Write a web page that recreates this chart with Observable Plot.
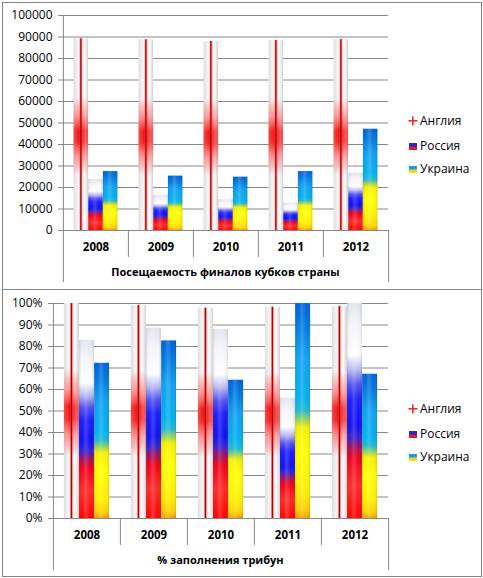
<!DOCTYPE html>
<html>
<head>
<meta charset="utf-8">
<script src="https://cdn.jsdelivr.net/npm/d3@7"></script>
<script src="https://cdn.jsdelivr.net/npm/@observablehq/plot@0.6"></script>
<style>
  html, body { margin: 0; padding: 0; background: #fff; }
  body { width: 483px; height: 578px; position: relative; overflow: hidden; font-family: "Open Sans", sans-serif; }
  .panel { position: absolute; left: 2px; width: 480px; box-sizing: border-box; border: 1px solid #858585; }
  .chart { position: absolute; left: 0; width: 483px; height: 290px; }
  .legend { position: absolute; left: 408px; font-size: 12px; color: #000; }
  .legend .item { position: absolute; left: 0; white-space: nowrap; height: 16px; line-height: 16px; }
  .legend svg { vertical-align: middle; margin-right: 2px; position: relative; top: -1px; }
</style>
</head>
<body>
<svg width="0" height="0" style="position:absolute">
  <defs>
    <linearGradient id="gEngBase" x1="0" y1="0" x2="1" y2="0">
      <stop offset="0" stop-color="#d2d2d2"/>
      <stop offset="0.18" stop-color="#eaeaea"/>
      <stop offset="0.4" stop-color="#f8f8f8"/>
      <stop offset="0.6" stop-color="#ffffff"/>
      <stop offset="0.82" stop-color="#f0f0f0"/>
      <stop offset="1" stop-color="#cccccc"/>
    </linearGradient>
    <linearGradient id="gEngRed" x1="0" y1="1" x2="0" y2="0">
      <stop offset="0.29" stop-color="#ff0000" stop-opacity="0"/>
      <stop offset="0.38" stop-color="#ff3030" stop-opacity="0.5"/>
      <stop offset="0.46" stop-color="#f00000" stop-opacity="0.92"/>
      <stop offset="0.52" stop-color="#f00000" stop-opacity="0.95"/>
      <stop offset="0.6" stop-color="#ff3030" stop-opacity="0.5"/>
      <stop offset="0.69" stop-color="#ff0000" stop-opacity="0"/>
    </linearGradient>
    <linearGradient id="gEngGloss" x1="0" y1="0" x2="1" y2="0">
      <stop offset="0" stop-color="#ffffff" stop-opacity="0.25"/>
      <stop offset="0.45" stop-color="#ffffff" stop-opacity="0"/>
      <stop offset="0.8" stop-color="#ffffff" stop-opacity="0.3"/>
      <stop offset="1" stop-color="#d8d8d8" stop-opacity="0.35"/>
    </linearGradient>
    <linearGradient id="gRus" x1="0" y1="1" x2="0" y2="0">
      <stop offset="0" stop-color="#ff0000"/>
      <stop offset="0.15" stop-color="#ff2a2a"/>
      <stop offset="0.28" stop-color="#f00018"/>
      <stop offset="0.33" stop-color="#a01060"/>
      <stop offset="0.38" stop-color="#3020d8"/>
      <stop offset="0.43" stop-color="#1010f0"/>
      <stop offset="0.55" stop-color="#1c1cff"/>
      <stop offset="0.62" stop-color="#5050f0"/>
      <stop offset="0.69" stop-color="#b8b8f4"/>
      <stop offset="0.76" stop-color="#ffffff"/>
      <stop offset="0.9" stop-color="#f4f4fa"/>
      <stop offset="1" stop-color="#e2e2f0"/>
    </linearGradient>
    <linearGradient id="gUkr" x1="0" y1="1" x2="0" y2="0">
      <stop offset="0" stop-color="#f0a000"/>
      <stop offset="0.04" stop-color="#ffd000"/>
      <stop offset="0.12" stop-color="#ffee00"/>
      <stop offset="0.3" stop-color="#ffff00"/>
      <stop offset="0.42" stop-color="#f4f000"/>
      <stop offset="0.46" stop-color="#90d060"/>
      <stop offset="0.5" stop-color="#20b8d0"/>
      <stop offset="0.56" stop-color="#00b0f0"/>
      <stop offset="0.75" stop-color="#10a0f0"/>
      <stop offset="0.9" stop-color="#0078e0"/>
      <stop offset="1" stop-color="#0060d8"/>
    </linearGradient>
    <linearGradient id="gShade" x1="0" y1="0" x2="1" y2="0">
      <stop offset="0" stop-color="#000000" stop-opacity="0.12"/>
      <stop offset="0.2" stop-color="#ffffff" stop-opacity="0"/>
      <stop offset="0.45" stop-color="#ffffff" stop-opacity="0.18"/>
      <stop offset="0.75" stop-color="#ffffff" stop-opacity="0"/>
      <stop offset="1" stop-color="#000000" stop-opacity="0.12"/>
    </linearGradient>
    <linearGradient id="gLegRus" x1="0" y1="0" x2="0" y2="1">
      <stop offset="0" stop-color="#3030f0"/>
      <stop offset="0.45" stop-color="#2020e0"/>
      <stop offset="0.6" stop-color="#e02030"/>
      <stop offset="1" stop-color="#ff1010"/>
    </linearGradient>
    <linearGradient id="gLegUkr" x1="0" y1="0" x2="0" y2="1">
      <stop offset="0" stop-color="#1090f0"/>
      <stop offset="0.45" stop-color="#20a8e8"/>
      <stop offset="0.6" stop-color="#f0e000"/>
      <stop offset="1" stop-color="#ffe000"/>
    </linearGradient>
  </defs>
</svg>

<div class="panel" style="top:2px; height:288px;"></div>
<div class="panel" style="top:289px; height:288px;"></div>
<div id="c1" class="chart" style="top:0px;"></div>
<div id="c2" class="chart" style="top:288px;"></div>
<div class="legend" id="l1" style="top:0px;"></div>
<div class="legend" id="l2" style="top:288px;"></div>

<script>
// ---- data ----
const years = ["2008", "2009", "2010", "2011", "2012"];
const countries = ["Англия", "Россия", "Украина"];
// Attendance of national cup finals
const attEngland = [89200, 88700, 87900, 88400, 88800];
const attRussia  = [23700, 16300, 14300, 12700, 26700];
const attUkraine = [27400, 25300, 24800, 27400, 47100];
// % stadium fill
const fillEngland = [100, 99.1, 97.8, 98.3, 98.6];
const fillRussia  = [82.9, 88.5, 88.0, 55.9, 100];
const fillUkraine = [72.2, 82.6, 64.3, 100, 67.1];
const attTicks = [0, 10000, 20000, 30000, 40000, 50000, 60000, 70000, 80000, 90000, 100000];
const fillTicks = [0, 10, 20, 30, 40, 50, 60, 70, 80, 90, 100];
const title1 = "Посещаемость финалов кубков страны";
const title2 = "% заполнения трибун";

function rows(vals) { return years.map((y, i) => ({year: y, value: vals[i]})); }

function panel({eng, rus, ukr, ticks, yMax, fmt, marginLeft, title}) {
  const W = 483, H = 290, mr = 95, mt = 15, mb = 60;
  const bw = (W - marginLeft - mr) / years.length;
  const plotH = H - mt - mb;
  const off = 0.1625 * bw, w = 0.225 * bw;
  const ins = (i) => ({insetLeft: off + i * w, insetRight: bw - off - (i + 1) * w});
  const e = rows(eng), r = rows(rus), u = rows(ukr);
  const lineL = off + w * 0.45;
  return Plot.plot({
    width: W, height: H, marginLeft, marginRight: mr, marginTop: mt, marginBottom: mb,
    x: {domain: years, padding: 0},
    y: {domain: [0, yMax]},
    style: {fontFamily: "'Open Sans', sans-serif", fontSize: "12px", color: "#000", background: "transparent", overflow: "visible"},
    marks: [
      Plot.ruleY(ticks, {stroke: "#878787", strokeWidth: 1}),
      Plot.axisY({ticks, tickFormat: fmt, tickSize: 4, tickPadding: 6, stroke: "#878787", fill: "#000", fontSize: 12, label: null}),
      Plot.axisX({tickSize: 0, tickPadding: 12, fontWeight: "bold", fontSize: 11.5, label: null}),
      // category separators below the axis
      Plot.ruleX(years.slice(1), {x: d => d, dx: -bw / 2, insetTop: plotH, insetBottom: -27, stroke: "#878787"}),
      Plot.ruleX(years.slice(0, 1), {x: d => d, dx: -bw / 2, insetBottom: -52, stroke: "#878787"}),
      Plot.ruleX(years.slice(-1), {x: d => d, dx: bw / 2, insetTop: plotH, insetBottom: -52, stroke: "#878787"}),
      // England
      Plot.barY(e, {x: "year", y: "value", ...ins(0), fill: "url(#gEngBase)"}),
      Plot.barY(e, {x: "year", y: "value", ...ins(0), fill: "url(#gEngRed)"}),
      Plot.barY(e, {x: "year", y: "value", ...ins(0), fill: "url(#gEngGloss)"}),
      Plot.barY(e, {x: "year", y: "value", insetLeft: lineL - 0.8, insetRight: bw - lineL - 2.6, fill: "#f05050", fillOpacity: 0.45}),
      Plot.barY(e, {x: "year", y: "value", insetLeft: lineL, insetRight: bw - lineL - 1.6, fill: "#b80000"}),
      // Russia
      Plot.barY(r, {x: "year", y: "value", ...ins(1), fill: "url(#gRus)"}),
      Plot.barY(r, {x: "year", y: "value", ...ins(1), fill: "url(#gShade)"}),
      // Ukraine
      Plot.barY(u, {x: "year", y: "value", ...ins(2), fill: "url(#gUkr)"}),
      Plot.barY(u, {x: "year", y: "value", ...ins(2), fill: "url(#gShade)"}),
      Plot.ruleY([0], {stroke: "#878787"}),
      Plot.text([title], {frameAnchor: "bottom", dy: 45, fontWeight: "bold", fontSize: 11, fill: "#000"})
    ]
  });
}

document.getElementById("c1").append(panel({
  eng: attEngland, rus: attRussia, ukr: attUkraine, ticks: attTicks, yMax: 100000,
  fmt: d3.format("d"), marginLeft: 62, title: title1
}));
document.getElementById("c2").append(panel({
  eng: fillEngland, rus: fillRussia, ukr: fillUkraine, ticks: fillTicks, yMax: 100,
  fmt: d => d + "%", marginLeft: 52, title: title2
}));

function legend(el) {
  const sym = [
    '<svg width="10" height="10"><rect x="4" y="0.5" width="1.6" height="9" fill="#f03030"/><rect x="0.5" y="4" width="9" height="1.6" fill="#f03030"/></svg>',
    '<svg width="10" height="10"><rect x="1" y="2" width="8" height="7" fill="url(#gLegRus)"/></svg>',
    '<svg width="10" height="10"><rect x="1" y="2" width="8" height="7" fill="url(#gLegUkr)"/></svg>'
  ];
  const tops = [113, 138, 161];
  countries.forEach((c, i) => {
    const d = document.createElement("div");
    d.className = "item";
    d.style.top = tops[i] + "px";
    d.innerHTML = sym[i] + c;
    el.append(d);
  });
}
legend(document.getElementById("l1"));
legend(document.getElementById("l2"));
</script>
</body>
</html>
